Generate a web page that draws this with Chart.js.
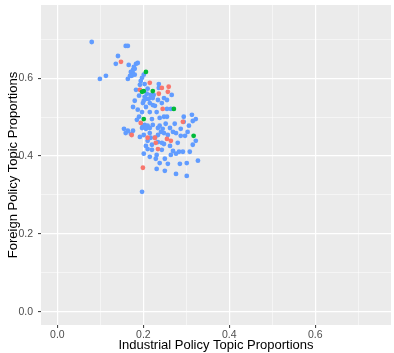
<!DOCTYPE html>
<html>
<head>
<meta charset="utf-8">
<script src="https://cdn.jsdelivr.net/npm/chart.js@4.4.0/dist/chart.umd.min.js"></script>
<style>
  html, body { margin: 0; padding: 0; background: #ffffff; }
</style>
</head>
<body>
<canvas id="topicScatter" width="394" height="353"></canvas>
<script>
// topic proportions per document: [industrial, foreign]
const bluePoints = [
  [0.080,0.693],[0.159,0.683],[0.164,0.683],[0.141,0.657],[0.136,0.637],[0.166,0.634],[0.183,0.637],[0.187,0.639],
  [0.178,0.629],[0.176,0.621],[0.180,0.624],[0.171,0.616],[0.176,0.611],[0.169,0.606],[0.173,0.606],[0.180,0.609],
  [0.099,0.598],[0.113,0.606],[0.201,0.609],[0.197,0.601],[0.194,0.593],[0.192,0.583],[0.203,0.585],[0.236,0.585],
  [0.236,0.575],[0.210,0.573],[0.208,0.560],[0.224,0.557],[0.266,0.557],[0.203,0.552],[0.208,0.547],[0.213,0.547],
  [0.222,0.549],[0.248,0.549],[0.180,0.542],[0.215,0.536],[0.222,0.531],[0.227,0.529],[0.176,0.526],[0.255,0.521],
  [0.264,0.521],[0.201,0.542],[0.190,0.501],[0.220,0.495],[0.248,0.501],[0.255,0.501],[0.294,0.501],[0.313,0.506],
  [0.322,0.495],[0.315,0.490],[0.294,0.488],[0.306,0.478],[0.252,0.483],[0.203,0.480],[0.199,0.478],[0.210,0.478],
  [0.197,0.472],[0.206,0.470],[0.215,0.472],[0.155,0.470],[0.164,0.465],[0.159,0.459],[0.176,0.465],[0.171,0.457],
  [0.192,0.449],[0.201,0.454],[0.215,0.459],[0.217,0.447],[0.245,0.470],[0.241,0.462],[0.248,0.459],[0.269,0.462],
  [0.276,0.459],[0.297,0.452],[0.322,0.439],[0.315,0.429],[0.227,0.447],[0.234,0.436],[0.243,0.434],[0.248,0.431],
  [0.210,0.418],[0.220,0.416],[0.243,0.416],[0.231,0.403],[0.229,0.393],[0.269,0.413],[0.276,0.406],[0.283,0.411],
  [0.292,0.411],[0.264,0.403],[0.250,0.393],[0.301,0.382],[0.327,0.388],[0.231,0.367],[0.250,0.362],[0.276,0.354],
  [0.301,0.349],[0.197,0.308],[0.210,0.439],[0.220,0.429],[0.206,0.426],[0.234,0.472],[0.238,0.478],[0.262,0.472],
  [0.185,0.493],[0.197,0.513],[0.190,0.555],[0.243,0.536],[0.255,0.544],[0.231,0.513],[0.215,0.513],[0.280,0.434],
  [0.262,0.426],[0.287,0.452],[0.199,0.536],[0.206,0.526],[0.217,0.557],[0.234,0.544],[0.187,0.519],[0.238,0.498],
  [0.273,0.483],[0.287,0.470],[0.303,0.462],[0.222,0.480],[0.234,0.454],[0.257,0.454],[0.201,0.406],[0.215,0.398],
  [0.238,0.382],[0.257,0.380],[0.285,0.380],[0.308,0.411],[0.183,0.570],[0.164,0.598]
];
const redPoints = [
  [0.148,0.642],[0.215,0.588],[0.243,0.575],[0.259,0.578],[0.257,0.565],[0.236,0.560],[0.192,0.570],[0.245,0.521],
  [0.194,0.485],[0.292,0.488],[0.173,0.454],[0.210,0.447],[0.227,0.447],[0.229,0.434],[0.255,0.444],[0.264,0.439],
  [0.234,0.418],[0.199,0.370]
];
const greenPoints = [
  [0.206,0.616],[0.197,0.565],[0.201,0.567],[0.222,0.567],[0.271,0.521],[0.201,0.495],[0.317,0.452]
];

const gridValues = [0, 0.1, 0.2, 0.3, 0.4, 0.5, 0.6, 0.7];
const xTickLabels = ['0.0', '0.2', '0.4', '0.6'];
const yTickLabels = ['0.0', '0.2', '0.4', '0.6'];

const toXY = pts => pts.map(p => ({ x: p[0], y: p[1] }));
const isMajor = v => Math.round(v * 10) % 2 === 0;

// grey ggplot-style panel behind the grid
const panelBg = {
  id: 'panelBg',
  beforeDraw(chart) {
    const a = chart.chartArea;
    const ctx = chart.ctx;
    ctx.save();
    ctx.fillStyle = '#EBEBEB';
    ctx.fillRect(a.left, a.top, a.right - a.left, a.bottom - a.top);
    ctx.restore();
  }
};

function axisOpts(labels, title, size, vertical) {
  return {
    type: 'linear',
    border: { display: false },
    afterBuildTicks: s => { s.ticks = gridValues.map(v => ({ value: v })); },
    afterFit: s => {
      // fixed axis box, no extra label overhang padding
      if (vertical) s.width = size; else s.height = size;
      s.paddingTop = 0; s.paddingBottom = 0;
      s.paddingLeft = 0; s.paddingRight = 0;
    },
    grid: {
      color: '#FFFFFF',
      lineWidth: c => (c.tick && isMajor(c.tick.value)) ? 1.2 : 0.5,
      drawTicks: true,
      tickLength: 3,
      tickWidth: 1,
      tickColor: c => (c.tick && isMajor(c.tick.value)) ? '#333333' : 'rgba(0,0,0,0)'
    },
    ticks: {
      autoSkip: false,
      maxRotation: 0,
      padding: vertical ? 5 : 1,
      color: '#4D4D4D',
      font: { family: 'Liberation Sans, Arial, sans-serif', size: 10.5 },
      callback: v => isMajor(v) ? labels[Math.round(v * 5)] : ''
    },
    title: {
      display: true,
      text: title,
      color: '#000000',
      padding: { top: vertical ? 6 : 0, bottom: 0 },
      font: { family: 'Liberation Sans, Arial, sans-serif', size: 13 }
    }
  };
}

const xAxis = axisOpts(xTickLabels, 'Industrial Policy Topic Proportions', 28, false);
xAxis.min = -0.038;
xAxis.max = 0.776;
const yAxis = axisOpts(yTickLabels, 'Foreign Policy Topic Proportions', 41, true);
yAxis.min = -0.034;
yAxis.max = 0.788;

new Chart(document.getElementById('topicScatter'), {
  type: 'scatter',
  data: {
    datasets: [
      { label: 'green', data: toXY(greenPoints), backgroundColor: '#00BA38' },
      { label: 'red', data: toXY(redPoints), backgroundColor: '#F8766D' },
      { label: 'blue', data: toXY(bluePoints), backgroundColor: '#619CFF' }
    ]
  },
  options: {
    responsive: false,
    animation: false,
    layout: { padding: { left: 0, right: 3, top: 5, bottom: 0 } },
    elements: { point: { radius: 2.4, borderWidth: 0, hoverRadius: 2.4 } },
    plugins: { legend: { display: false }, tooltip: { enabled: false } },
    scales: { x: xAxis, y: yAxis }
  },
  plugins: [panelBg]
});
</script>
</body>
</html>
